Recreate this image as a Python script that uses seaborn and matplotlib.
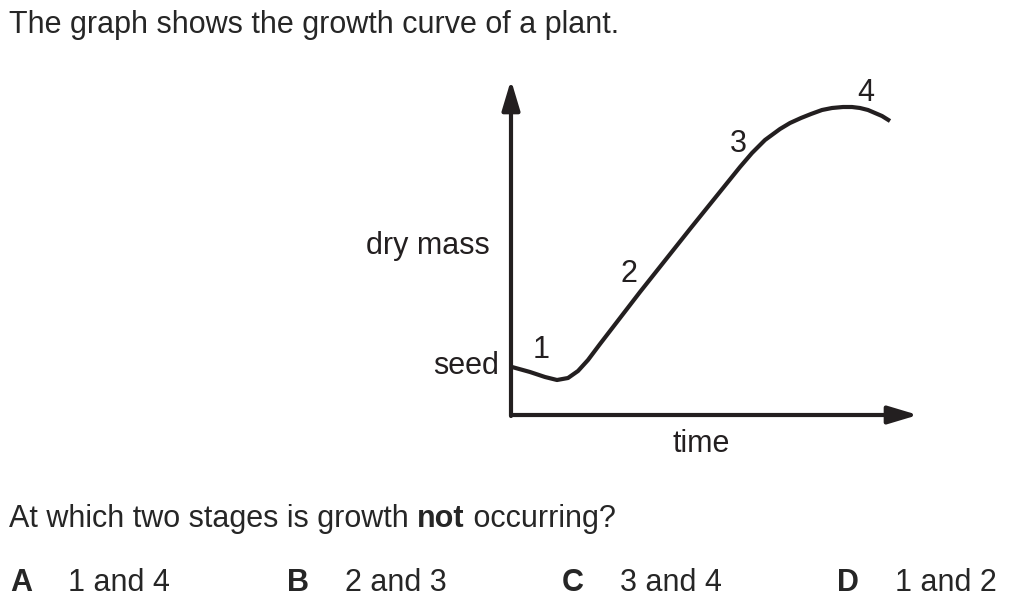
import numpy as np
import matplotlib
matplotlib.use("Agg")
import matplotlib.pyplot as plt
import seaborn as sns

W, H = 1016, 609

# growth curve (time, dry mass in drawing units)
time = [1, 19, 34, 46, 57, 67, 77, 89, 129, 179, 229, 241, 254, 269, 279,
        290, 300, 311, 321, 332, 341, 349, 357, 364, 371, 379]
dry_mass = [48, 43, 38, 35, 37, 44, 55, 71, 123, 186, 248, 262, 275, 286, 292,
            297, 301, 305, 307, 308, 308, 307, 305, 302, 299, 294]

stage_labels = ["1", "2", "3", "4"]
stage_time = [30, 118, 227, 355]
stage_mass = [57, 133, 263, 314]

question = "At which two stages is growth "
question_bold = "not"
question_end = " occurring?"
option_letters = ["A", "B", "C", "D"]
option_texts = ["1 and 4", "2 and 3", "3 and 4", "1 and 2"]

INK = "#231f20"
FS = 22

sns.set_style("white")
plt.rcParams["font.family"] = ["Liberation Sans", "DejaVu Sans"]

fig = plt.figure(figsize=(W / 100, H / 100), dpi=100)
fig.patch.set_facecolor("white")

# axes placed so that one data unit is one pixel
x0, x1, ytop, ybot = 511, 912, 85, 415
ax = fig.add_axes([x0 / W, 1 - ybot / H, (x1 - x0) / W, (ybot - ytop) / H])
ax.set_xlim(0, x1 - x0)
ax.set_ylim(0, ybot - ytop)
ax.axis("off")

sns.lineplot(x=time, y=dry_mass, ax=ax, sort=False, estimator=None,
             color=INK, linewidth=3.0, solid_capstyle="butt", solid_joinstyle="round")

arrow = dict(arrowstyle="-|>,head_length=0.9,head_width=0.27", lw=3.0, color=INK,
             shrinkA=0, shrinkB=0, mutation_scale=20)
ax.annotate("", xy=(x1 - x0 + 6, 0), xytext=(0, 0), arrowprops=arrow, annotation_clip=False)
ax.annotate("", xy=(0, ybot - ytop + 5), xytext=(0, -1), arrowprops=arrow, annotation_clip=False)

for lab, tx, my in zip(stage_labels, stage_time, stage_mass):
    ax.text(tx, my, lab, ha="center", va="baseline", fontsize=FS, color=INK)


def px(x, y):
    return x / W, 1 - y / H


fig.text(*px(9, 33), "The graph shows the growth curve of a plant.", fontsize=FS, va="baseline")
fig.text(*px(490, 254), "dry mass", fontsize=FS, ha="right", va="baseline", color=INK)
fig.text(*px(499, 374), "seed", fontsize=FS, ha="right", va="baseline", color=INK)
fig.text(*px(701, 452), "time", fontsize=FS, ha="center", va="baseline", color=INK)

# question line with one bold word
r = fig.canvas.get_renderer()
xcur = 9
for part, weight in [(question, "normal"), (question_bold, "bold"), (question_end, "normal")]:
    t = fig.text(*px(xcur, 527), part, fontsize=FS, fontweight=weight, va="baseline")
    xcur += t.get_window_extent(renderer=r).width

letter_x = [10, 287, 562, 837]
for lx, letter, txt in zip(letter_x, option_letters, option_texts):
    fig.text(*px(lx, 591), letter, fontsize=FS, fontweight="bold", va="baseline")
    fig.text(*px(lx + 58, 591), txt, fontsize=FS, va="baseline")

fig.savefig("out.png", dpi=100, facecolor="white")
